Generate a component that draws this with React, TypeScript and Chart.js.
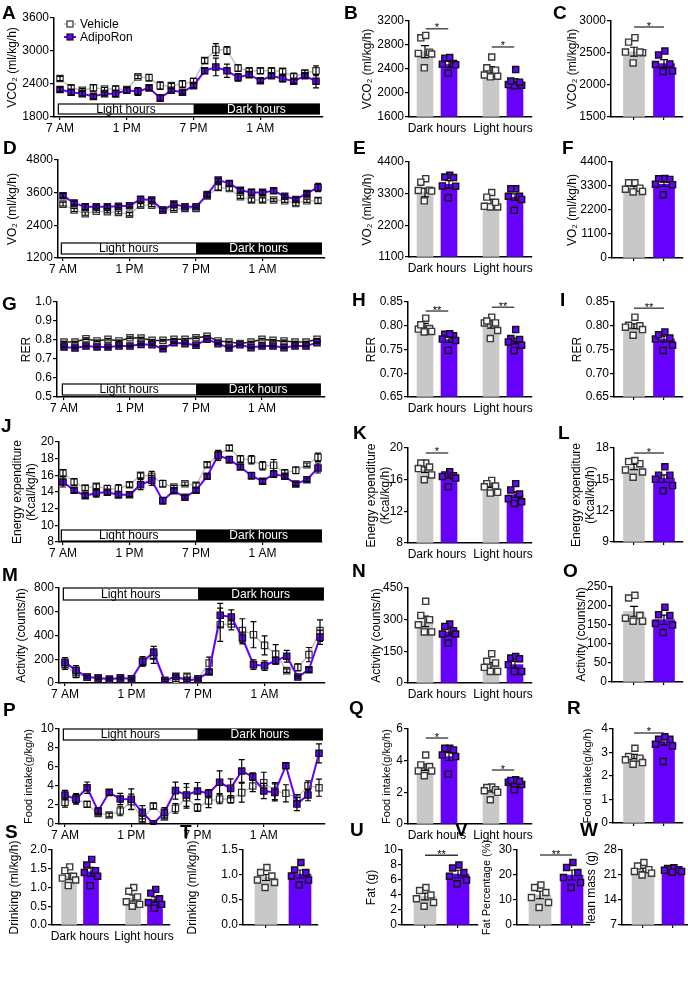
import React, { useEffect, useRef } from 'react';
import { Chart, registerables } from 'chart.js';

Chart.register(...registerables);

const FONT = 'Arial, "Liberation Sans", Helvetica, sans-serif';
const PURPLE = '#6600ff';
const BAR_GREY = '#c8c8c8';
const LINE_GREY = '#c0c0c0';

// ---------- shared categories / ticks ----------
const HOURS = [0, 1, 2, 3, 4, 5, 6, 7, 8, 9, 10, 11, 12, 13, 14, 15, 16, 17, 18, 19, 20, 21, 22, 23];
const TIME_TICKS = [0, 6, 12, 18];
const TIME_TICK_LABELS = ['7 AM', '1 PM', '7 PM', '1 AM'];
const BAND_LABELS = ['Light hours', 'Dark hours'];
const PERIODS = ['Dark hours', 'Light hours'];
const SERIES = ['Vehicle', 'AdipoRon'];

// ---------- A: VCO2 hourly ----------
const vco2Ticks = [1800, 2400, 3000, 3600];
const vco2Vehicle = [2500, 2330, 2285, 2330, 2310, 2310, 2300, 2530, 2515, 2370, 2370, 2400, 2450, 2825, 3025, 3010, 2690, 2640, 2640, 2640, 2630, 2530, 2600, 2640];
const vco2VehicleSem = [40, 50, 30, 60, 30, 50, 40, 30, 60, 70, 40, 60, 50, 50, 110, 70, 60, 50, 50, 50, 50, 70, 50, 90];
const vco2Adipo = [2300, 2250, 2225, 2175, 2225, 2225, 2285, 2265, 2330, 2145, 2285, 2250, 2370, 2640, 2710, 2640, 2520, 2570, 2460, 2550, 2500, 2450, 2550, 2450];
const vco2AdipoSem = [40, 50, 40, 40, 30, 60, 50, 70, 40, 60, 30, 30, 40, 50, 160, 120, 70, 50, 40, 40, 60, 40, 40, 120];
// B
const vco2PeriodTicks = [1600, 2000, 2400, 2800, 3200];
const vco2PeriodVehicle = [2690, 2385];
const vco2PeriodVehicleSem = [100, 55];
const vco2PeriodAdipo = [2475, 2195];
const vco2PeriodAdipoSem = [50, 40];
const vco2PeriodVehicleDots = [[2920, 2960, 2680, 2660, 2650, 2420], [2600, 2420, 2280, 2270, 2300, 2380]];
const vco2PeriodAdipoDots = [[2580, 2590, 2480, 2490, 2470, 2330], [2390, 2130, 2120, 2140, 2200, 2180]];
// C
const vco2DailyTicks = [1500, 2000, 2500, 3000];
const vco2Daily = [2520, 2335];
const vco2DailySem = [70, 60];
const vco2DailyVehicleDots = [2670, 2740, 2505, 2515, 2515, 2345];
const vco2DailyAdipoDots = [2530, 2470, 2320, 2330, 2210, 2220];

// ---------- D: VO2 hourly ----------
const vo2Ticks = [1200, 2400, 3600, 4800];
const vo2Vehicle = [3180, 2960, 2830, 2920, 2900, 2870, 2810, 3140, 3140, 2960, 2990, 3020, 3020, 3480, 3790, 3750, 3450, 3330, 3330, 3330, 3300, 3200, 3300, 3310];
const vo2VehicleSem = [70, 60, 60, 40, 40, 50, 60, 60, 50, 50, 50, 50, 40, 80, 100, 80, 60, 80, 80, 50, 60, 80, 60, 100];
const vo2Adipo = [3490, 3220, 3080, 3080, 3080, 3100, 3120, 3360, 3330, 2960, 3180, 3080, 3080, 3530, 4060, 3940, 3690, 3610, 3610, 3670, 3470, 3350, 3570, 3790];
const vo2AdipoSem = [80, 70, 100, 50, 60, 50, 50, 100, 60, 60, 60, 40, 40, 60, 60, 90, 70, 110, 80, 100, 50, 60, 60, 150];
// E
const vo2PeriodTicks = [1100, 2200, 3300, 4400];
const vo2PeriodVehicle = [3340, 2990];
const vo2PeriodVehicleSem = [150, 110];
const vo2PeriodAdipo = [3620, 3180];
const vo2PeriodAdipoSem = [130, 110];
const vo2PeriodVehicleDots = [[3820, 3700, 3420, 3390, 3410, 3050], [3340, 3180, 2840, 2840, 2860, 3000]];
const vo2PeriodAdipoDots = [[3940, 3860, 3880, 3570, 3560, 3160], [3470, 3470, 3210, 3210, 2720, 3100]];
// F
const vo2DailyTicks = [0, 1100, 2200, 3300, 4400];
const vo2Daily = [3210, 3380];
const vo2DailySem = [70, 100];
const vo2DailyVehicleDots = [3450, 3450, 3200, 3150, 3030, 3050];
const vo2DailyAdipoDots = [3630, 3640, 3600, 3380, 3360, 2900];

// ---------- G: RER hourly ----------
const rerTicks = [0.5, 0.6, 0.7, 0.8, 0.9, 1.0];
const rerVehicle = [0.789, 0.789, 0.807, 0.795, 0.804, 0.795, 0.812, 0.81, 0.798, 0.798, 0.804, 0.804, 0.812, 0.819, 0.795, 0.789, 0.781, 0.789, 0.804, 0.798, 0.795, 0.789, 0.789, 0.804];
const rerVehicleSem = [0.004, 0.004, 0.004, 0.004, 0.004, 0.004, 0.004, 0.004, 0.004, 0.004, 0.004, 0.004, 0.004, 0.004, 0.004, 0.004, 0.004, 0.004, 0.004, 0.004, 0.004, 0.004, 0.004, 0.004];
const rerAdipo = [0.763, 0.758, 0.768, 0.763, 0.763, 0.768, 0.768, 0.777, 0.775, 0.754, 0.786, 0.781, 0.772, 0.804, 0.781, 0.758, 0.775, 0.76, 0.768, 0.768, 0.76, 0.768, 0.768, 0.786];
const rerAdipoSem = [0.004, 0.004, 0.004, 0.004, 0.004, 0.004, 0.004, 0.004, 0.004, 0.004, 0.004, 0.004, 0.004, 0.004, 0.004, 0.004, 0.004, 0.004, 0.004, 0.004, 0.004, 0.004, 0.004, 0.004];
// H
const rerBarTicks = [0.65, 0.7, 0.75, 0.8, 0.85];
const rerPeriodVehicle = [0.8, 0.803];
const rerPeriodVehicleSem = [0.005, 0.008];
const rerPeriodAdipo = [0.771, 0.768];
const rerPeriodAdipoSem = [0.006, 0.006];
const rerPeriodVehicleDots = [[0.816, 0.794, 0.793, 0.802, 0.788, 0.787], [0.818, 0.806, 0.806, 0.79, 0.773, 0.81]];
const rerPeriodAdipoDots = [[0.782, 0.779, 0.783, 0.769, 0.772, 0.748], [0.792, 0.773, 0.771, 0.759, 0.748, 0.766]];
// I
const rerDaily = [0.799, 0.772];
const rerDailySem = [0.005, 0.006];
const rerDailyVehicleDots = [0.818, 0.801, 0.8, 0.797, 0.792, 0.78];
const rerDailyAdipoDots = [0.787, 0.774, 0.772, 0.781, 0.759, 0.748];

// ---------- J: energy expenditure hourly ----------
const eeTicks = [8, 10, 12, 14, 16, 18, 20];
const eeVehicle = [16.28, 15.2, 14.48, 14.68, 14.4, 14.4, 14.88, 16.0, 15.88, 15.0, 14.6, 15.0, 14.8, 17.28, 18.48, 19.28, 17.96, 17.88, 17.16, 17.2, 16.28, 16.6, 17.28, 18.16];
const eeVehicleSem = [0.4, 0.4, 0.3, 0.3, 0.4, 0.5, 0.3, 0.3, 0.6, 0.4, 0.2, 0.2, 0.3, 0.3, 0.5, 0.3, 0.4, 0.5, 0.5, 0.7, 0.4, 0.4, 0.2, 0.5];
const eeAdipo = [15.2, 14.2, 13.56, 13.88, 13.96, 13.68, 13.68, 14.88, 15.4, 12.96, 14.16, 13.36, 14.2, 15.88, 18.4, 17.88, 17.0, 15.96, 15.28, 16.16, 15.88, 14.96, 15.48, 16.88];
const eeAdipoSem = [0.6, 0.3, 0.3, 0.5, 0.3, 0.4, 0.2, 0.6, 0.6, 0.4, 0.3, 0.2, 0.3, 0.3, 0.6, 0.4, 0.3, 0.4, 0.3, 0.4, 0.2, 0.2, 0.2, 0.6];
// K
const eePeriodTicks = [8, 12, 16, 20];
const eePeriodVehicle = [17.26, 15.28];
const eePeriodVehicleSem = [0.35, 0.25];
const eePeriodAdipo = [16.46, 14.1];
const eePeriodAdipoSem = [0.25, 0.35];
const eePeriodVehicleDots = [[18.1, 18.1, 17.6, 17.4, 16.6, 16.0], [15.9, 15.5, 15.1, 15.2, 14.3, 14.4]];
const eePeriodAdipoDots = [[17.0, 16.6, 16.4, 16.5, 16.2, 15.1], [15.5, 14.7, 14.2, 13.6, 13.0, 13.2]];
// L
const eeDailyTicks = [9, 12, 15, 18];
const eeDaily = [16.18, 15.07];
const eeDailySem = [0.25, 0.35];
const eeDailyVehicleDots = [16.7, 16.5, 16.8, 15.9, 15.7, 15.2];
const eeDailyAdipoDots = [16.2, 15.4, 15.4, 14.4, 13.9, 15.0];

// ---------- M: activity hourly ----------
const actTicks = [0, 200, 400, 600, 800];
const actVehicle = [154, 76, 48, 42, 20, 42, 34, 177, 225, 20, 22, 56, 36, 168, 491, 497, 441, 407, 317, 244, 104, 132, 239, 441];
const actVehicleSem = [40, 30, 10, 10, 10, 10, 10, 30, 60, 10, 10, 20, 10, 50, 140, 50, 100, 110, 80, 80, 15, 30, 60, 90];
const actAdipo = [174, 107, 50, 42, 34, 42, 36, 182, 258, 20, 56, 22, 34, 93, 570, 556, 379, 154, 146, 188, 225, 50, 112, 385];
const actAdipoSem = [40, 40, 10, 10, 10, 10, 10, 40, 50, 10, 10, 10, 10, 20, 100, 60, 50, 40, 40, 30, 50, 10, 20, 60];
// N
const actPeriodTicks = [0, 150, 300, 450];
const actPeriodVehicle = [292, 82];
const actPeriodVehicleSem = [25, 15];
const actPeriodAdipo = [242, 87];
const actPeriodAdipoSem = [18, 15];
const actPeriodVehicleDots = [[387, 320, 300, 276, 242, 242], [139, 103, 95, 55, 55, 74]];
const actPeriodAdipoDots = [[279, 268, 248, 232, 232, 189], [118, 126, 115, 55, 55, 87]];
// O
const actDailyTicks = [0, 50, 100, 150, 200, 250];
const actDaily = [186, 164];
const actDailySem = [13, 12];
const actDailyVehicleDots = [221, 228, 168, 175, 160, 160];
const actDailyAdipoDots = [197, 175, 177, 154, 130, 150];

// ---------- P: food intake hourly ----------
const foodTicks = [0, 2, 4, 6, 8, 10];
const foodVehicle = [2.28, 2.7, 2.07, 1.12, 0.95, 1.37, 2.35, 0.53, 1.89, 0.74, 1.65, 2.77, 1.72, 2.42, 2.63, 2.6, 3.3, 4.0, 4.35, 3.47, 3.23, 2.77, 4.03, 3.82];
const foodVehicleSem = [0.5, 0.5, 0.3, 0.2, 0.2, 0.5, 0.8, 0.3, 0.3, 0.2, 0.5, 1.1, 0.4, 0.7, 0.5, 0.4, 1.0, 0.6, 1.1, 0.9, 0.9, 0.3, 0.5, 0.9];
const foodAdipo = [3.05, 2.6, 3.82, 1.37, 3.33, 2.63, 2.6, 1.23, 0.02, 1.23, 3.51, 3.05, 3.47, 3.23, 4.39, 3.75, 5.58, 4.98, 3.47, 3.33, 6.14, 2.1, 3.05, 7.44];
const foodAdipoSem = [0.5, 0.5, 0.6, 0.3, 0.3, 0.6, 1.1, 0.7, 0.05, 0.5, 0.9, 1.2, 0.9, 0.4, 1.2, 1.0, 1.2, 0.4, 0.8, 0.9, 0.3, 0.7, 0.6, 1.0];
// Q
const foodPeriodTicks = [0, 2, 4, 6];
const foodPeriodVehicle = [3.59, 2.12];
const foodPeriodVehicleSem = [0.2, 0.1];
const foodPeriodAdipo = [4.26, 2.64];
const foodPeriodAdipoSem = [0.25, 0.08];
const foodPeriodVehicleDots = [[4.36, 3.63, 3.73, 3.35, 3.35, 3.05], [2.33, 2.3, 2.16, 2.0, 2.1, 1.53]];
const foodPeriodAdipoDots = [[4.78, 4.68, 4.78, 4.26, 4.36, 3.15], [2.79, 2.64, 2.75, 2.5, 2.16, 2.7]];
// R
const foodDailyTicks = [0, 1, 2, 3, 4];
const foodDaily = [2.83, 3.45];
const foodDailySem = [0.09, 0.14];
const foodDailyVehicleDots = [3.18, 2.76, 2.83, 2.69, 2.5, 2.57];
const foodDailyAdipoDots = [3.56, 3.56, 3.67, 3.28, 3.35, 2.62];

// ---------- S: drinking by period ----------
const drinkPeriodTicks = [0, 0.5, 1.0, 1.5, 2.0];
const drinkPeriodVehicle = [1.3, 0.72];
const drinkPeriodVehicleSem = [0.08, 0.08];
const drinkPeriodAdipo = [1.42, 0.68];
const drinkPeriodAdipoSem = [0.12, 0.07];
const drinkPeriodVehicleDots = [[1.55, 1.45, 1.3, 1.25, 1.2, 1.05], [1.0, 0.9, 0.75, 0.62, 0.55, 0.5]];
const drinkPeriodAdipoDots = [[1.75, 1.6, 1.45, 1.4, 1.3, 1.05], [0.95, 0.85, 0.7, 0.6, 0.55, 0.45]];
// T
const drinkDailyTicks = [0, 0.5, 1.0, 1.5];
const drinkDaily = [0.95, 1.02];
const drinkDailySem = [0.06, 0.08];
const drinkDailyVehicleDots = [1.15, 1.05, 0.98, 0.9, 0.85, 0.75];
const drinkDailyAdipoDots = [1.25, 1.1, 1.05, 0.98, 0.9, 0.8];
// U
const fatTicks = [0, 2, 4, 6, 8, 10];
const fatMass = [3.8, 6.8];
const fatMassSem = [0.45, 0.5];
const fatVehicleDots = [5.0, 4.6, 4.0, 3.5, 3.0, 2.5];
const fatAdipoDots = [8.0, 7.6, 7.0, 6.5, 6.0, 5.5];
// V
const fatPctTicks = [0, 10, 20, 30];
const fatPct = [12, 20];
const fatPctSem = [1.5, 2.0];
const fatPctVehicleDots = [16, 15, 13, 11, 9, 7];
const fatPctAdipoDots = [25, 23, 21, 19, 17, 15];
// W
const leanTicks = [7, 14, 21, 28];
const leanMass = [22.4, 22.3];
const leanMassSem = [0.5, 0.3];
const leanVehicleDots = [24.5, 23.5, 22.5, 22.0, 21.5, 21.0];
const leanAdipoDots = [23.0, 22.8, 22.5, 22.3, 22.0, 21.8];

// ---------- plugins ----------
const errorBarPlugin = {
  id: 'errbars',
  afterDatasetDraw(chart: any, args: any) {
    const ds = chart.data.datasets[args.index];
    const errs: number[] | undefined = ds.errors;
    if (!errs) return;
    const y = chart.scales.y;
    const ctx = chart.ctx;
    const cap = ds.errorCap ?? 3;
    ctx.save();
    ctx.strokeStyle = '#000';
    ctx.lineWidth = 1.2;
    args.meta.data.forEach((el: any, i: number) => {
      const v = ds.data[i].y;
      const e = errs[i];
      if (e == null) return;
      const x = el.x;
      const y1 = y.getPixelForValue(v + e);
      const y2 = y.getPixelForValue(v - e);
      ctx.beginPath();
      ctx.moveTo(x, y1); ctx.lineTo(x, y2);
      ctx.moveTo(x - cap, y1); ctx.lineTo(x + cap, y1);
      ctx.moveTo(x - cap, y2); ctx.lineTo(x + cap, y2);
      ctx.stroke();
    });
    ctx.restore();
  },
};

const bandPlugin = {
  id: 'band',
  beforeDatasetsDraw(chart: any, _a: any, o: any) {
    if (!o || o.start === undefined) return;
    const { ctx, chartArea: ca } = chart;
    const x = chart.scales.x;
    const xa = x.getPixelForValue(o.start);
    const xs = x.getPixelForValue(o.split);
    const xe = x.getPixelForValue(o.end);
    const top = o.atTop ? ca.top + o.gap : ca.bottom - o.gap - o.height;
    ctx.save();
    ctx.fillStyle = '#fff';
    ctx.fillRect(xa, top, xs - xa, o.height);
    ctx.fillStyle = '#000';
    ctx.fillRect(xs, top, xe - xs, o.height);
    ctx.strokeStyle = '#000';
    ctx.lineWidth = 1.2;
    ctx.strokeRect(xa, top, xe - xa, o.height);
    ctx.font = `12px ${FONT}`;
    ctx.textAlign = 'center';
    ctx.textBaseline = 'middle';
    ctx.fillStyle = '#000';
    ctx.fillText(o.labels[0], (xa + xs) / 2, top + o.height / 2 + 0.5);
    ctx.fillStyle = '#fff';
    ctx.fillText(o.labels[1], (xs + xe) / 2, top + o.height / 2 + 0.5);
    ctx.restore();
  },
};

const seriesLegendPlugin = {
  id: 'seriesLegend',
  afterDatasetsDraw(chart: any, _a: any, o: any) {
    if (!o || !o.items) return;
    const { ctx, chartArea: ca } = chart;
    o.items.forEach((it: any, i: number) => {
      const y = ca.top + o.dy + i * o.rowH;
      const x0 = ca.left + o.dx;
      ctx.save();
      ctx.strokeStyle = it.line;
      ctx.lineWidth = it.lineWidth;
      ctx.beginPath();
      ctx.moveTo(x0, y);
      ctx.lineTo(x0 + 12, y);
      ctx.stroke();
      ctx.fillStyle = it.fill;
      ctx.strokeStyle = it.stroke;
      ctx.lineWidth = 1.2;
      ctx.fillRect(x0 + 3, y - 3, 6, 6);
      ctx.strokeRect(x0 + 3, y - 3, 6, 6);
      ctx.fillStyle = '#000';
      ctx.font = `12px ${FONT}`;
      ctx.textAlign = 'left';
      ctx.textBaseline = 'middle';
      ctx.fillText(it.text, x0 + 16, y + 0.5);
      ctx.restore();
    });
  },
};

const sigPlugin = {
  id: 'sig',
  afterDraw(chart: any, _a: any, o: any) {
    if (!o || !o.items) return;
    const { ctx } = chart;
    const x = chart.scales.x;
    const y = chart.scales.y;
    o.items.forEach((it: any) => {
      const x1 = x.getPixelForValue(it.x1);
      const x2 = x.getPixelForValue(it.x2);
      const yy = y.getPixelForValue(it.y);
      ctx.save();
      ctx.strokeStyle = '#333';
      ctx.lineWidth = 1.3;
      ctx.beginPath();
      ctx.moveTo(x1, yy);
      ctx.lineTo(x2, yy);
      ctx.stroke();
      ctx.fillStyle = '#000';
      ctx.font = `11px ${FONT}`;
      ctx.textAlign = 'center';
      ctx.textBaseline = 'alphabetic';
      ctx.fillText(it.text, (x1 + x2) / 2, yy + 2.5);
      ctx.restore();
    });
  },
};

// ---------- geometry helpers ----------
const PAD_T = 14;
const PAD_R = 40;
const XH = 30;

type Rect = { l: number; t: number; r: number; b: number };
type Geo = { cl: number; ct: number; cw: number; ch: number; yw: number; titlePad: number; lh: number };

function geometry(plot: Rect, tx: number, titleSize: number): Geo {
  const lh = titleSize * 1.15;
  const cl = Math.floor(tx - lh / 2 - 2);
  return {
    cl,
    ct: plot.t - PAD_T,
    cw: plot.r + PAD_R - cl,
    ch: plot.b - plot.t + PAD_T + XH,
    yw: plot.l - cl,
    titlePad: tx - cl - lh / 2,
    lh,
  };
}

function yAxis(ticks: number[], dec: number, title: string | string[], geo: Geo, titleSize: number) {
  return {
    type: 'linear',
    min: ticks[0],
    max: ticks[ticks.length - 1],
    afterBuildTicks: (s: any) => { s.ticks = ticks.map((v) => ({ value: v })); },
    afterFit: (s: any) => { s.width = geo.yw; },
    ticks: { autoSkip: false, font: { family: FONT, size: 12 }, color: '#000', padding: 1, callback: (v: any) => Number(v).toFixed(dec) },
    grid: { display: true, drawOnChartArea: false, drawTicks: true, tickLength: 4, color: '#000', tickColor: '#000', lineWidth: 1.2 },
    border: { display: true, color: '#000', width: 1.5 },
    title: {
      display: true,
      text: title,
      color: '#000',
      font: { family: FONT, size: titleSize, lineHeight: 1.15 },
      padding: { top: geo.titlePad, bottom: 0 },
    },
  };
}

function xAxis(min: number, max: number, tickVals: number[], labels: string[], marks: boolean) {
  return {
    type: 'linear',
    min,
    max,
    offset: false,
    afterBuildTicks: (s: any) => { s.ticks = tickVals.map((v) => ({ value: v })); },
    afterFit: (s: any) => { s.height = XH; },
    ticks: {
      autoSkip: false, maxRotation: 0, minRotation: 0, padding: 1, color: '#000',
      font: { family: FONT, size: 12 },
      callback: (_v: any, i: number) => labels[i] ?? '',
    },
    grid: {
      display: true, drawOnChartArea: false, drawTicks: true, tickLength: 3, offset: false,
      color: '#000', tickColor: marks ? '#000' : 'rgba(0,0,0,0)', lineWidth: 1.2,
    },
    border: { display: true, color: '#000', width: 1.5 },
  };
}

function baseOptions(scales: any, plugins: any) {
  return {
    responsive: false,
    maintainAspectRatio: false,
    animation: false,
    events: [],
    devicePixelRatio: 1,
    layout: { padding: { top: PAD_T, right: PAD_R, bottom: 0, left: 0 } },
    scales,
    plugins: { legend: { display: false }, tooltip: { enabled: false }, ...plugins },
  };
}

type Panel = { geo: Geo; make: () => any };

// ---------- time-course panels ----------
type TimeSpec = {
  plot: Rect; x0: number; x23: number; ticks: number[]; dec: number;
  title: string | string[]; tx: number; titleSize?: number;
  veh: number[]; vehSem: number[]; adi: number[]; adiSem: number[];
  band: { atTop: boolean; gap: number; height: number };
  vehLine?: string; vehFill?: string; legend?: boolean;
};

function timePanel(p: TimeSpec): Panel {
  const ts = p.titleSize ?? 12;
  const geo = geometry(p.plot, p.tx, ts);
  const ph = (p.x23 - p.x0) / 23;
  const xmin = -(p.x0 - p.plot.l) / ph;
  const xmax = 23 + (p.plot.r - p.x23) / ph;
  const vehLine = p.vehLine ?? LINE_GREY;
  const vehFill = p.vehFill ?? '#ffffff';
  const make = () => ({
    type: 'scatter',
    data: {
      datasets: [
        {
          label: SERIES[1], data: HOURS.map((h, i) => ({ x: h, y: p.adi[i] })), errors: p.adiSem, errorCap: 3,
          showLine: true, borderColor: PURPLE, borderWidth: 2, tension: 0,
          pointStyle: 'rect', pointRadius: 4.5, pointBackgroundColor: PURPLE, pointBorderColor: '#111', pointBorderWidth: 1.2, order: 0,
        },
        {
          label: SERIES[0], data: HOURS.map((h, i) => ({ x: h, y: p.veh[i] })), errors: p.vehSem, errorCap: 3,
          showLine: true, borderColor: vehLine, borderWidth: 1.5, tension: 0,
          pointStyle: 'rect', pointRadius: 4.5, pointBackgroundColor: vehFill, pointBorderColor: '#333', pointBorderWidth: 1.2, order: 1,
        },
      ],
    },
    options: baseOptions(
      { x: xAxis(xmin, xmax, TIME_TICKS, TIME_TICK_LABELS, true), y: yAxis(p.ticks, p.dec, p.title, geo, ts) },
      {
        band: { start: -0.15, split: 12, end: 23.3, atTop: p.band.atTop, gap: p.band.gap, height: p.band.height, labels: BAND_LABELS },
        seriesLegend: p.legend
          ? {
              dx: 10, dy: 6, rowH: 13,
              items: [
                { text: SERIES[0], line: vehLine, lineWidth: 1.5, fill: vehFill, stroke: '#333' },
                { text: SERIES[1], line: PURPLE, lineWidth: 2, fill: PURPLE, stroke: '#111' },
              ],
            }
          : {},
      },
    ),
    plugins: [bandPlugin, errorBarPlugin, seriesLegendPlugin],
  });
  return { geo, make };
}

// ---------- bar panels ----------
const JITTER = [0.1, -0.6, 0.65, -0.95, 0.95, -0.1];

function jitter(center: number, values: number[], spread: number) {
  const order = values.map((_v, i) => i).sort((a, b) => values[b] - values[a]);
  const out: { x: number; y: number }[] = new Array(values.length);
  order.forEach((idx, rank) => { out[idx] = { x: center + JITTER[rank] * spread, y: values[idx] }; });
  return out;
}

function barSets(xVeh: number[], xAdi: number[], veh: number[], vehSem: number[], adi: number[], adiSem: number[],
  vehDots: { x: number; y: number }[], adiDots: { x: number; y: number }[], bw: number, base: number, cap: number) {
  const common = { maxBarThickness: bw, barPercentage: 1, categoryPercentage: 1, grouped: false, base, borderWidth: 0, errorCap: cap };
  return [
    { type: 'bar', label: SERIES[0], data: xVeh.map((x, i) => ({ x, y: veh[i] })), errors: vehSem, backgroundColor: BAR_GREY, order: 4, ...common },
    { type: 'bar', label: SERIES[1], data: xAdi.map((x, i) => ({ x, y: adi[i] })), errors: adiSem, backgroundColor: PURPLE, order: 3, ...common },
    {
      type: 'scatter', label: SERIES[0] + ' mice', data: vehDots, showLine: false, pointStyle: 'rect', pointRadius: 4.3,
      pointBackgroundColor: '#f6f6f6', pointBorderColor: '#3a3a3a', pointBorderWidth: 1.4, order: 2,
    },
    {
      type: 'scatter', label: SERIES[1] + ' mice', data: adiDots, showLine: false, pointStyle: 'rect', pointRadius: 4.3,
      pointBackgroundColor: PURPLE, pointBorderColor: '#111', pointBorderWidth: 1.4, order: 1,
    },
  ];
}

type PeriodSpec = {
  plot: Rect; g0: number; gap: number; off: number; bw: number; ticks: number[]; dec: number;
  title: string | string[]; tx: number; titleSize?: number;
  veh: number[]; vehSem: number[]; adi: number[]; adiSem: number[];
  vehDots: number[][]; adiDots: number[][]; sig?: { group: number; y: number; text: string }[];
};

function periodPanel(p: PeriodSpec): Panel {
  const ts = p.titleSize ?? 12;
  const geo = geometry(p.plot, p.tx, ts);
  const xmin = (p.plot.l - p.g0) / p.gap;
  const xmax = (p.plot.r - p.g0) / p.gap;
  const o = p.off / p.gap;
  const spread = 7 / p.gap;
  const make = () => {
    const xVeh = [0 - o, 1 - o];
    const xAdi = [0 + o, 1 + o];
    const vehDots = [...jitter(xVeh[0], p.vehDots[0], spread), ...jitter(xVeh[1], p.vehDots[1], spread)];
    const adiDots = [...jitter(xAdi[0], p.adiDots[0], spread), ...jitter(xAdi[1], p.adiDots[1], spread)];
    return {
      type: 'scatter',
      data: { datasets: barSets(xVeh, xAdi, p.veh, p.vehSem, p.adi, p.adiSem, vehDots, adiDots, p.bw, p.ticks[0], 4) },
      options: baseOptions(
        { x: xAxis(xmin, xmax, [0, 1], PERIODS, false), y: yAxis(p.ticks, p.dec, p.title, geo, ts) },
        { sig: p.sig ? { items: p.sig.map((s) => ({ x1: s.group - 0.17, x2: s.group + 0.17, y: s.y, text: s.text })) } : {} },
      ),
      plugins: [errorBarPlugin, sigPlugin],
    };
  };
  return { geo, make };
}

type DailySpec = {
  plot: Rect; c0: number; gap: number; bw: number; ticks: number[]; dec: number;
  title: string | string[]; tx: number; titleSize?: number;
  means: number[]; sems: number[]; vehDots: number[]; adiDots: number[]; sig?: { y: number; text: string };
};

function dailyPanel(p: DailySpec): Panel {
  const ts = p.titleSize ?? 12;
  const geo = geometry(p.plot, p.tx, ts);
  const xmin = (p.plot.l - p.c0) / p.gap;
  const xmax = (p.plot.r - p.c0) / p.gap;
  const spread = 9 / p.gap;
  const make = () => ({
    type: 'scatter',
    data: {
      datasets: barSets([0], [1], [p.means[0]], [p.sems[0]], [p.means[1]], [p.sems[1]],
        jitter(0, p.vehDots, spread), jitter(1, p.adiDots, spread), p.bw, p.ticks[0], 4),
    },
    options: baseOptions(
      { x: xAxis(xmin, xmax, [0, 1], ['', ''], true), y: yAxis(p.ticks, p.dec, p.title, geo, ts) },
      { sig: p.sig ? { items: [{ x1: 0, x2: 1, y: p.sig.y, text: p.sig.text }] } : {} },
    ),
    plugins: [errorBarPlugin, sigPlugin],
  });
  return { geo, make };
}

// ---------- panel specs ----------
const VCO2_T = 'VCO₂ (ml/kg/h)';
const VO2_T = 'VO₂ (ml/kg/h)';
const EE_T = ['Energy expenditure', '(Kcal/kg/h)'];
const ACT_T = 'Activity (counts/h)';
const FOOD_T = 'Food intake(g/kg/h)';
const DRINK_T = 'Drinking (ml/kg/h)';

const PANELS: Panel[] = [
  timePanel({ plot: { l: 54, t: 18, r: 323, b: 117 }, x0: 60, x23: 316, ticks: vco2Ticks, dec: 0, title: VCO2_T, tx: 13,
    veh: vco2Vehicle, vehSem: vco2VehicleSem, adi: vco2Adipo, adiSem: vco2AdipoSem, band: { atTop: false, gap: 3, height: 10 }, legend: true }),
  periodPanel({ plot: { l: 409, t: 21, r: 532, b: 117 }, g0: 437, gap: 66, off: 12, bw: 16, ticks: vco2PeriodTicks, dec: 0, title: VCO2_T, tx: 368,
    veh: vco2PeriodVehicle, vehSem: vco2PeriodVehicleSem, adi: vco2PeriodAdipo, adiSem: vco2PeriodAdipoSem,
    vehDots: vco2PeriodVehicleDots, adiDots: vco2PeriodAdipoDots, sig: [{ group: 0, y: 3070, text: '*' }, { group: 1, y: 2767, text: '*' }] }),
  dailyPanel({ plot: { l: 611, t: 21, r: 683, b: 117 }, c0: 634, gap: 30, bw: 21, ticks: vco2DailyTicks, dec: 0, title: VCO2_T, tx: 573,
    means: vco2Daily, sems: vco2DailySem, vehDots: vco2DailyVehicleDots, adiDots: vco2DailyAdipoDots, sig: { y: 2906, text: '*' } }),

  timePanel({ plot: { l: 58, t: 160, r: 325, b: 258 }, x0: 63, x23: 318, ticks: vo2Ticks, dec: 0, title: VO2_T, tx: 13,
    veh: vo2Vehicle, vehSem: vo2VehicleSem, adi: vo2Adipo, adiSem: vo2AdipoSem, band: { atTop: false, gap: 4, height: 11 } }),
  periodPanel({ plot: { l: 409, t: 162, r: 532, b: 257 }, g0: 437, gap: 66, off: 12, bw: 16, ticks: vo2PeriodTicks, dec: 0, title: VO2_T, tx: 368,
    veh: vo2PeriodVehicle, vehSem: vo2PeriodVehicleSem, adi: vo2PeriodAdipo, adiSem: vo2PeriodAdipoSem,
    vehDots: vo2PeriodVehicleDots, adiDots: vo2PeriodAdipoDots }),
  dailyPanel({ plot: { l: 612, t: 162, r: 683, b: 258 }, c0: 634, gap: 30, bw: 21, ticks: vo2DailyTicks, dec: 0, title: VO2_T, tx: 573,
    means: vo2Daily, sems: vo2DailySem, vehDots: vo2DailyVehicleDots, adiDots: vo2DailyAdipoDots }),

  timePanel({ plot: { l: 57, t: 302, r: 325, b: 397 }, x0: 64, x23: 317, ticks: rerTicks, dec: 1, title: 'RER', tx: 27,
    veh: rerVehicle, vehSem: rerVehicleSem, adi: rerAdipo, adiSem: rerAdipoSem, band: { atTop: false, gap: 2, height: 11 },
    vehLine: '#1a1a1a', vehFill: '#cfcfcf' }),
  periodPanel({ plot: { l: 408, t: 302, r: 532, b: 397 }, g0: 437, gap: 66, off: 12, bw: 16, ticks: rerBarTicks, dec: 2, title: 'RER', tx: 372,
    veh: rerPeriodVehicle, vehSem: rerPeriodVehicleSem, adi: rerPeriodAdipo, adiSem: rerPeriodAdipoSem,
    vehDots: rerPeriodVehicleDots, adiDots: rerPeriodAdipoDots, sig: [{ group: 0, y: 0.831, text: '**' }, { group: 1, y: 0.839, text: '**' }] }),
  dailyPanel({ plot: { l: 614, t: 302, r: 683, b: 397 }, c0: 634, gap: 30, bw: 21, ticks: rerBarTicks, dec: 2, title: 'RER', tx: 578,
    means: rerDaily, sems: rerDailySem, vehDots: rerDailyVehicleDots, adiDots: rerDailyAdipoDots, sig: { y: 0.837, text: '**' } }),

  timePanel({ plot: { l: 59, t: 442, r: 322, b: 542 }, x0: 63, x23: 318, ticks: eeTicks, dec: 0, title: EE_T, tx: 18,
    veh: eeVehicle, vehSem: eeVehicleSem, adi: eeAdipo, adiSem: eeAdipoSem, band: { atTop: false, gap: 1, height: 11 } }),
  periodPanel({ plot: { l: 408, t: 448, r: 532, b: 543 }, g0: 437, gap: 66, off: 12, bw: 16, ticks: eePeriodTicks, dec: 0, title: EE_T, tx: 372,
    veh: eePeriodVehicle, vehSem: eePeriodVehicleSem, adi: eePeriodAdipo, adiSem: eePeriodAdipoSem,
    vehDots: eePeriodVehicleDots, adiDots: eePeriodAdipoDots, sig: [{ group: 0, y: 19.37, text: '*' }] }),
  dailyPanel({ plot: { l: 614, t: 448, r: 683, b: 542 }, c0: 634, gap: 30, bw: 21, ticks: eeDailyTicks, dec: 0, title: EE_T, tx: 577,
    means: eeDaily, sems: eeDailySem, vehDots: eeDailyVehicleDots, adiDots: eeDailyAdipoDots, sig: { y: 17.52, text: '*' } }),

  timePanel({ plot: { l: 59, t: 588, r: 325, b: 683 }, x0: 65, x23: 320, ticks: actTicks, dec: 0, title: ACT_T, tx: 22,
    veh: actVehicle, vehSem: actVehicleSem, adi: actAdipo, adiSem: actAdipoSem, band: { atTop: true, gap: 0, height: 12 } }),
  periodPanel({ plot: { l: 408, t: 588, r: 532, b: 683 }, g0: 437, gap: 66, off: 12, bw: 16, ticks: actPeriodTicks, dec: 0, title: ACT_T, tx: 377,
    veh: actPeriodVehicle, vehSem: actPeriodVehicleSem, adi: actPeriodAdipo, adiSem: actPeriodAdipoSem,
    vehDots: actPeriodVehicleDots, adiDots: actPeriodAdipoDots }),
  dailyPanel({ plot: { l: 612, t: 587, r: 683, b: 682 }, c0: 634, gap: 30, bw: 21, ticks: actDailyTicks, dec: 0, title: ACT_T, tx: 582,
    means: actDaily, sems: actDailySem, vehDots: actDailyVehicleDots, adiDots: actDailyAdipoDots }),

  timePanel({ plot: { l: 59, t: 729, r: 325, b: 824 }, x0: 65, x23: 319, ticks: foodTicks, dec: 0, title: FOOD_T, tx: 29, titleSize: 11,
    veh: foodVehicle, vehSem: foodVehicleSem, adi: foodAdipo, adiSem: foodAdipoSem, band: { atTop: true, gap: 0, height: 11 } }),
  periodPanel({ plot: { l: 408, t: 729, r: 532, b: 824 }, g0: 437, gap: 66, off: 12, bw: 16, ticks: foodPeriodTicks, dec: 0, title: FOOD_T, tx: 387, titleSize: 11,
    veh: foodPeriodVehicle, vehSem: foodPeriodVehicleSem, adi: foodPeriodAdipo, adiSem: foodPeriodAdipoSem,
    vehDots: foodPeriodVehicleDots, adiDots: foodPeriodAdipoDots, sig: [{ group: 0, y: 5.43, text: '*' }, { group: 1, y: 3.41, text: '*' }] }),
  dailyPanel({ plot: { l: 613, t: 729, r: 683, b: 823 }, c0: 634, gap: 30, bw: 21, ticks: foodDailyTicks, dec: 0, title: FOOD_T, tx: 588, titleSize: 11,
    means: foodDaily, sems: foodDailySem, vehDots: foodDailyVehicleDots, adiDots: foodDailyAdipoDots, sig: { y: 3.83, text: '*' } }),

  periodPanel({ plot: { l: 52, t: 850, r: 170, b: 925 }, g0: 80, gap: 64, off: 11, bw: 15, ticks: drinkPeriodTicks, dec: 1, title: DRINK_T, tx: 15,
    veh: drinkPeriodVehicle, vehSem: drinkPeriodVehicleSem, adi: drinkPeriodAdipo, adiSem: drinkPeriodAdipoSem,
    vehDots: drinkPeriodVehicleDots, adiDots: drinkPeriodAdipoDots }),
  dailyPanel({ plot: { l: 243, t: 850, r: 318, b: 925 }, c0: 266, gap: 34, bw: 22, ticks: drinkDailyTicks, dec: 1, title: DRINK_T, tx: 193,
    means: drinkDaily, sems: drinkDailySem, vehDots: drinkDailyVehicleDots, adiDots: drinkDailyAdipoDots }),
  dailyPanel({ plot: { l: 402, t: 850, r: 478, b: 925 }, c0: 425, gap: 33, bw: 22, ticks: fatTicks, dec: 0, title: 'Fat (g)', tx: 372,
    means: fatMass, sems: fatMassSem, vehDots: fatVehicleDots, adiDots: fatAdipoDots, sig: { y: 9.3, text: '**' } }),
  dailyPanel({ plot: { l: 517, t: 850, r: 590, b: 925 }, c0: 540, gap: 32, bw: 22, ticks: fatPctTicks, dec: 0, title: 'Fat Percentage (%)', tx: 487, titleSize: 11,
    means: fatPct, sems: fatPctSem, vehDots: fatPctVehicleDots, adiDots: fatPctAdipoDots, sig: { y: 28, text: '**' } }),
  dailyPanel({ plot: { l: 622, t: 850, r: 688, b: 925 }, c0: 643, gap: 30, bw: 22, ticks: leanTicks, dec: 0, title: 'lean mass (g)', tx: 592,
    means: leanMass, sems: leanMassSem, vehDots: leanVehicleDots, adiDots: leanAdipoDots }),
];

const LETTERS = [
  { ch: 'A', x: 2, y: 5 }, { ch: 'B', x: 344, y: 5 }, { ch: 'C', x: 553, y: 5 },
  { ch: 'D', x: 3, y: 140 }, { ch: 'E', x: 353, y: 140 }, { ch: 'F', x: 562, y: 140 },
  { ch: 'G', x: 2, y: 296 }, { ch: 'H', x: 352, y: 292 }, { ch: 'I', x: 560, y: 292 },
  { ch: 'J', x: 1, y: 418 }, { ch: 'K', x: 353, y: 425 }, { ch: 'L', x: 558, y: 425 },
  { ch: 'M', x: 2, y: 567 }, { ch: 'N', x: 352, y: 563 }, { ch: 'O', x: 563, y: 563 },
  { ch: 'P', x: 3, y: 702 }, { ch: 'Q', x: 349, y: 700 }, { ch: 'R', x: 567, y: 700 },
  { ch: 'S', x: 5, y: 824 }, { ch: 'T', x: 180, y: 824 }, { ch: 'U', x: 350, y: 822 }, { ch: 'V', x: 455, y: 822 }, { ch: 'W', x: 580, y: 822 },
];

function PanelCanvas({ panel }: { panel: Panel }) {
  const ref = useRef<HTMLCanvasElement>(null);
  useEffect(() => {
    if (!ref.current) return;
    const chart = new Chart(ref.current, panel.make());
    return () => chart.destroy();
  }, [panel]);
  const g = panel.geo;
  return (
    <canvas
      ref={ref}
      width={g.cw}
      height={g.ch}
      style={{ position: 'absolute', left: g.cl, top: g.ct, width: g.cw, height: g.ch }}
    />
  );
}

export default function App() {
  return (
    <div style={{ position: 'absolute', left: 0, top: 0, width: 688, height: 985, overflow: 'hidden', background: '#fff', fontFamily: FONT }}>
      {PANELS.map((p, i) => <PanelCanvas key={i} panel={p} />)}
      {LETTERS.map((l) => (
        <div key={l.ch} style={{ position: 'absolute', left: l.x, top: l.y - 2.5, fontSize: 19, lineHeight: '19px', fontWeight: 'bold', color: '#000', fontFamily: FONT }}>
          {l.ch}
        </div>
      ))}
    </div>
  );
}
